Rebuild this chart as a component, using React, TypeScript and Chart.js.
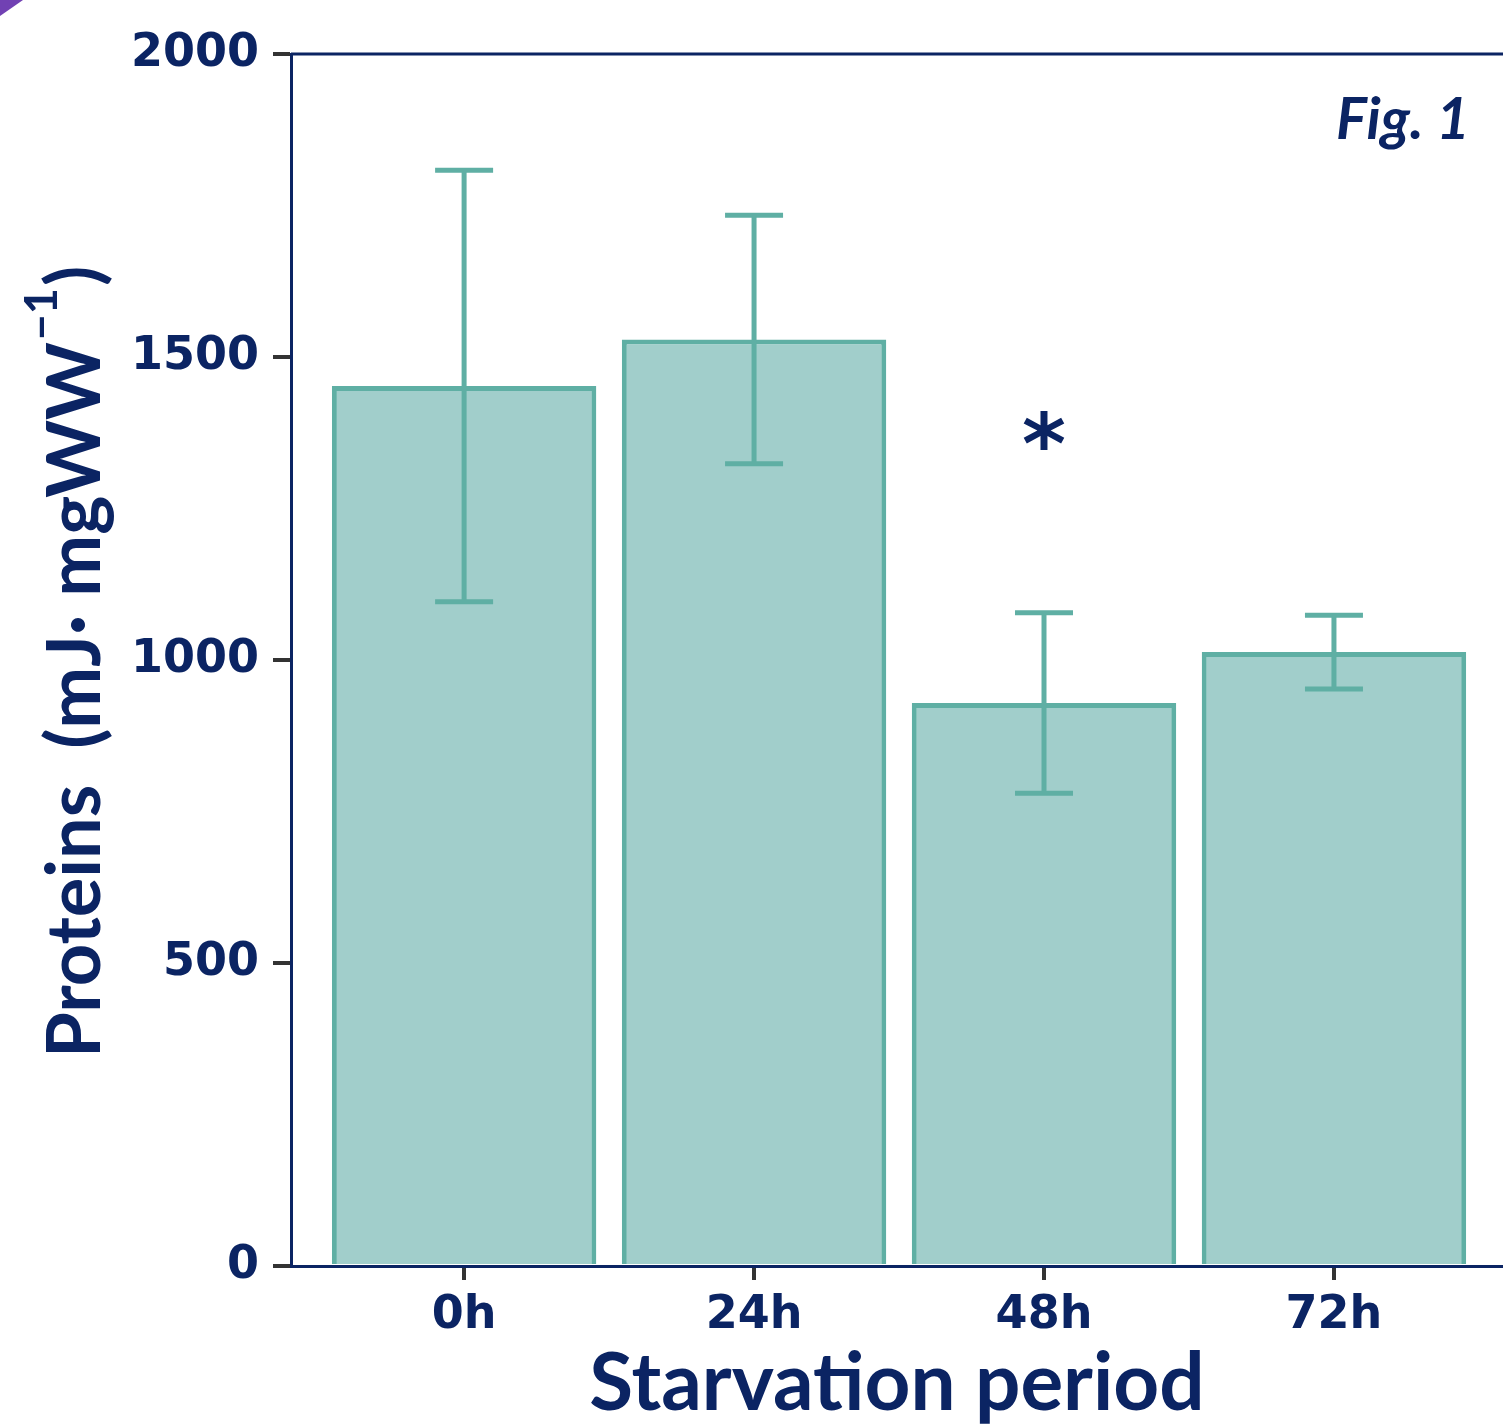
import React, { useEffect, useRef } from 'react';
import { Chart, registerables } from 'chart.js';
Chart.register(...registerables);

const categories = ['0h', '24h', '48h', '72h'];
const means = [1452, 1529, 929, 1013];
const errors = [356, 205, 149, 61];
const significance = ['', '', '*', ''];
const yTicks = [0, 500, 1000, 1500, 2000];
const markerValue = 1378;

const NAVY = '#0b2463';
const FILL = '#a1cecb';
const EDGE = '#5fafa4';
const TICK = '#333333';

const overlay = {
  id: 'overlay',
  beforeDraw(chart: any) {
    const ctx = chart.ctx;
    ctx.save();
    ctx.fillStyle = '#7141b3';
    ctx.beginPath();
    ctx.moveTo(0, 0);
    ctx.lineTo(23, 0);
    ctx.lineTo(0, 16);
    ctx.closePath();
    ctx.fill();
    ctx.restore();
  },
  afterDatasetsDraw(chart: any) {
    const ctx = chart.ctx;
    const y = chart.scales.y;
    const meta = chart.getDatasetMeta(0);
    ctx.save();
    ctx.strokeStyle = EDGE;
    ctx.lineWidth = 5;
    meta.data.forEach((el: any, i: number) => {
      const top = y.getPixelForValue(means[i] + errors[i]);
      const bot = y.getPixelForValue(means[i] - errors[i]);
      const x = el.x;
      ctx.beginPath();
      ctx.moveTo(x, top);
      ctx.lineTo(x, bot);
      ctx.moveTo(x - 29, top);
      ctx.lineTo(x + 29, top);
      ctx.moveTo(x - 29, bot);
      ctx.lineTo(x + 29, bot);
      ctx.stroke();
    });
    ctx.fillStyle = NAVY;
    ctx.font = "bold 84px 'DejaVu Sans'";
    ctx.textAlign = 'center';
    ctx.textBaseline = 'alphabetic';
    meta.data.forEach((el: any, i: number) => {
      const s = significance[i];
      if (!s) return;
      const m = ctx.measureText(s);
      const cy = y.getPixelForValue(markerValue);
      const off = (m.actualBoundingBoxAscent - m.actualBoundingBoxDescent) / 2;
      ctx.fillText(s, el.x, cy + off);
    });
    ctx.restore();
  },
  afterDraw(chart: any) {
    const ctx = chart.ctx;
    const area = chart.chartArea;
    ctx.save();
    ctx.strokeStyle = NAVY;
    ctx.lineWidth = 3;
    ctx.beginPath();
    ctx.moveTo(area.left, area.top);
    ctx.lineTo(chart.width, area.top);
    ctx.stroke();

    ctx.fillStyle = NAVY;
    ctx.font = "italic bold 58px Lato";
    ctx.textAlign = 'right';
    ctx.textBaseline = 'alphabetic';
    ctx.fillText('Fig. 1', 1470, 139);

    ctx.font = "bold 80px Lato";
    ctx.textAlign = 'center';
    ctx.fillText('Starvation period', (area.left + area.right) / 2, 1410);

    ctx.translate(100, 1058);
    ctx.rotate(-Math.PI / 2);
    ctx.textAlign = 'left';
    const mainFont = "bold 74px Lato";
    const supFont = "bold 45px Lato";
    let x = 0;
    ctx.font = mainFont;
    const main = 'Proteins  (mJ\u00b7 mgWW';
    ctx.fillText(main, x, 0);
    x += ctx.measureText(main).width + 2;
    ctx.font = supFont;
    const sup = '\u22121';
    ctx.fillText(sup, x, -43);
    x += ctx.measureText(sup).width + 2;
    ctx.font = mainFont;
    ctx.fillText(')', x, 0);
    ctx.restore();
  },
};

export default function App() {
  const ref = useRef<HTMLCanvasElement | null>(null);
  useEffect(() => {
    if (!ref.current) return;
    const tickFont = { family: "'DejaVu Sans'", size: 46, weight: 'bold' as const };
    const chart = new Chart(ref.current, {
      type: 'bar',
      data: {
        datasets: [
          {
            data: means.map((v, i) => ({ x: i, y: v })),
            backgroundColor: FILL,
            borderColor: EDGE,
            borderWidth: 5,
            borderSkipped: 'start',
            barPercentage: 0.912,
            categoryPercentage: 1,
          },
        ],
      },
      options: {
        animation: false,
        responsive: false,
        maintainAspectRatio: false,
        layout: { padding: { top: 54, right: 0, left: 0, bottom: 0 } },
        plugins: { legend: { display: false }, tooltip: { enabled: false } },
        scales: {
          x: {
            type: 'linear',
            min: -0.597,
            max: 3.583,
            offset: false,
            afterBuildTicks: (s: any) => {
              s.ticks = categories.map((_, i) => ({ value: i }));
            },
            afterFit: (s: any) => {
              s.height = 161;
            },
            ticks: {
              callback: (v: any) => categories[v as number] ?? '',
              font: tickFont,
              color: NAVY,
              padding: 8,
              autoSkip: false,
              maxRotation: 0,
            },
            grid: { offset: false, drawOnChartArea: false, tickLength: 14, color: TICK, tickColor: TICK, lineWidth: 4 },
            border: { display: true, color: NAVY, width: 3 },
          },
          y: {
            min: 0,
            max: 2000,
            afterBuildTicks: (s: any) => {
              s.ticks = yTicks.map((v) => ({ value: v }));
            },
            afterFit: (s: any) => {
              s.width = 291;
            },
            ticks: { font: tickFont, color: NAVY, padding: 14, callback: (v: any) => String(v) },
            grid: { drawOnChartArea: false, tickLength: 18, color: TICK, tickColor: TICK, lineWidth: 4 },
            border: { display: true, color: NAVY, width: 3 },
          },
        },
      },
      plugins: [overlay],
    });
    return () => chart.destroy();
  }, []);
  return (
    <div style={{ position: 'absolute', left: 0, top: 0, width: 1503, height: 1427, background: '#fff' }}>
      <canvas ref={ref} width={1503} height={1427} style={{ display: 'block', width: 1503, height: 1427 }} />
    </div>
  );
}
